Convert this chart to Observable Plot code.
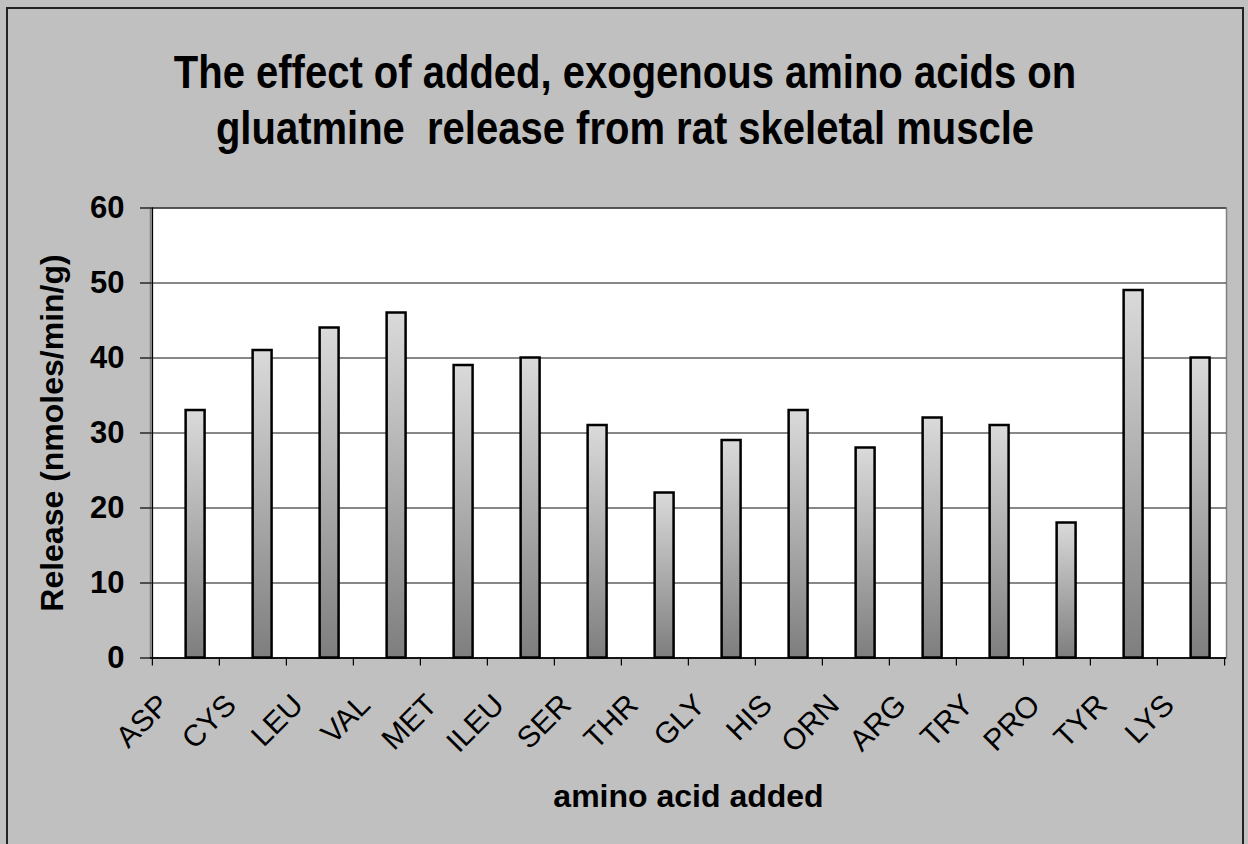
<!DOCTYPE html>
<html>
<head>
<meta charset="utf-8">
<script src="https://cdn.jsdelivr.net/npm/d3@7"></script>
<script src="https://cdn.jsdelivr.net/npm/@observablehq/plot@0.6"></script>
<style>
  html, body { margin: 0; padding: 0; background: #ffffff; }
  #wrap { position: relative; width: 1248px; height: 844px; overflow: hidden; background: #c0c0c0; font-family: "Liberation Sans", Arial, sans-serif; }
  #border { position: absolute; left: 6px; top: 7px; width: 1238px; height: 860px; border: 2px solid #222; box-sizing: border-box; pointer-events: none; }
  #title { position: absolute; left: 0; width: 1250px; top: 44px; text-align: center; font-weight: bold; font-size: 40px; line-height: 49px; color: #000; transform-origin: 50% 0; transform: scaleY(1.15); }
  #chart { position: absolute; left: 0; top: 0; }
</style>
</head>
<body>
<div id="wrap">
  <div id="title">The effect of added, exogenous amino acids on<br>gluatmine&nbsp; release from rat skeletal muscle</div>
  <div id="chart"></div>
  <div id="border"></div>
</div>
<script>
const categories = ["ASP","CYS","LEU","VAL","MET","ILEU","SER","THR","GLY","HIS","ORN","ARG","TRY","PRO","TYR","LYS"];
const release = [33,41,44,46,39,40,31,22,29,33,28,32,31,18,49,40];
const yTicks = [0,10,20,30,40,50,60];
const yLabel = "Release (nmoles/min/g)";
const xLabel = "amino acid added";

const data = categories.map((c, i) => ({name: c, value: release[i]}));

const W = 1248, H = 844;
const mL = 150, mR = 22, mT = 207.5, mB = 186.5;
const bw = (W - mL - mR) / categories.length;

const gradientDefs = () => {
  const defs = d3.create("svg:defs");
  const g = defs.append("linearGradient").attr("id", "barGrad")
    .attr("x1", 0).attr("y1", 0).attr("x2", 0).attr("y2", 1);
  g.append("stop").attr("offset", "0%").attr("stop-color", "#dadada");
  g.append("stop").attr("offset", "100%").attr("stop-color", "#7e7e7e");
  return defs.node();
};

const chart = Plot.plot({
  width: W,
  height: H,
  marginLeft: mL,
  marginRight: mR,
  marginTop: mT,
  marginBottom: mB,
  style: {background: "transparent", fontFamily: "'Liberation Sans', Arial, sans-serif", color: "#000", overflow: "visible"},
  x: {type: "band", domain: categories, padding: 0, axis: null},
  y: {domain: [0, 60], axis: null},
  marks: [
    gradientDefs,
    Plot.frame({fill: "white", stroke: "#808080", strokeWidth: 1.5}),
    Plot.gridY(yTicks, {stroke: "#111", strokeOpacity: 1, strokeWidth: 1.2}),
    Plot.barY(data, {
      x: "name", y: "value",
      fill: "url(#barGrad)", stroke: "#000", strokeWidth: 2.5,
      insetLeft: bw / 2, insetRight: bw - bw / 2 - bw / 3.5
    }),
    Plot.ruleX([0], {x: () => categories[0], dx: -bw / 2, stroke: "#000", strokeWidth: 1.5}),
    Plot.ruleY([0], {stroke: "#000", strokeWidth: 1.5}),
    Plot.axisY({ticks: yTicks, tickSize: 10, tickPadding: 16, fontSize: 31, fontWeight: "bold", label: null, stroke: "#000", strokeWidth: 1.2}),
    Plot.axisX({ticks: categories, tickSize: 8, tickFormat: () => "", dx: -bw / 2, label: null, strokeWidth: 1.2}),
    Plot.axisX({ticks: [categories[categories.length - 1]], tickSize: 8, tickFormat: () => "", dx: bw / 2, label: null, strokeWidth: 1.2}),
    Plot.axisX({ticks: categories, tickSize: 0, tickRotate: -45, tickPadding: 42, dx: -22, fontSize: 30, label: null}),
    Plot.text([yLabel], {frameAnchor: "left", textAnchor: "middle", dx: -98, rotate: -90, fontSize: 32, fontWeight: "bold", lineAnchor: "middle", fill: "#000"}),
    Plot.text([xLabel], {frameAnchor: "bottom", textAnchor: "middle", dy: 139, fontSize: 32, fontWeight: "bold", lineAnchor: "middle", fill: "#000"})
  ]
});
document.getElementById("chart").appendChild(chart);
</script>
</body>
</html>
